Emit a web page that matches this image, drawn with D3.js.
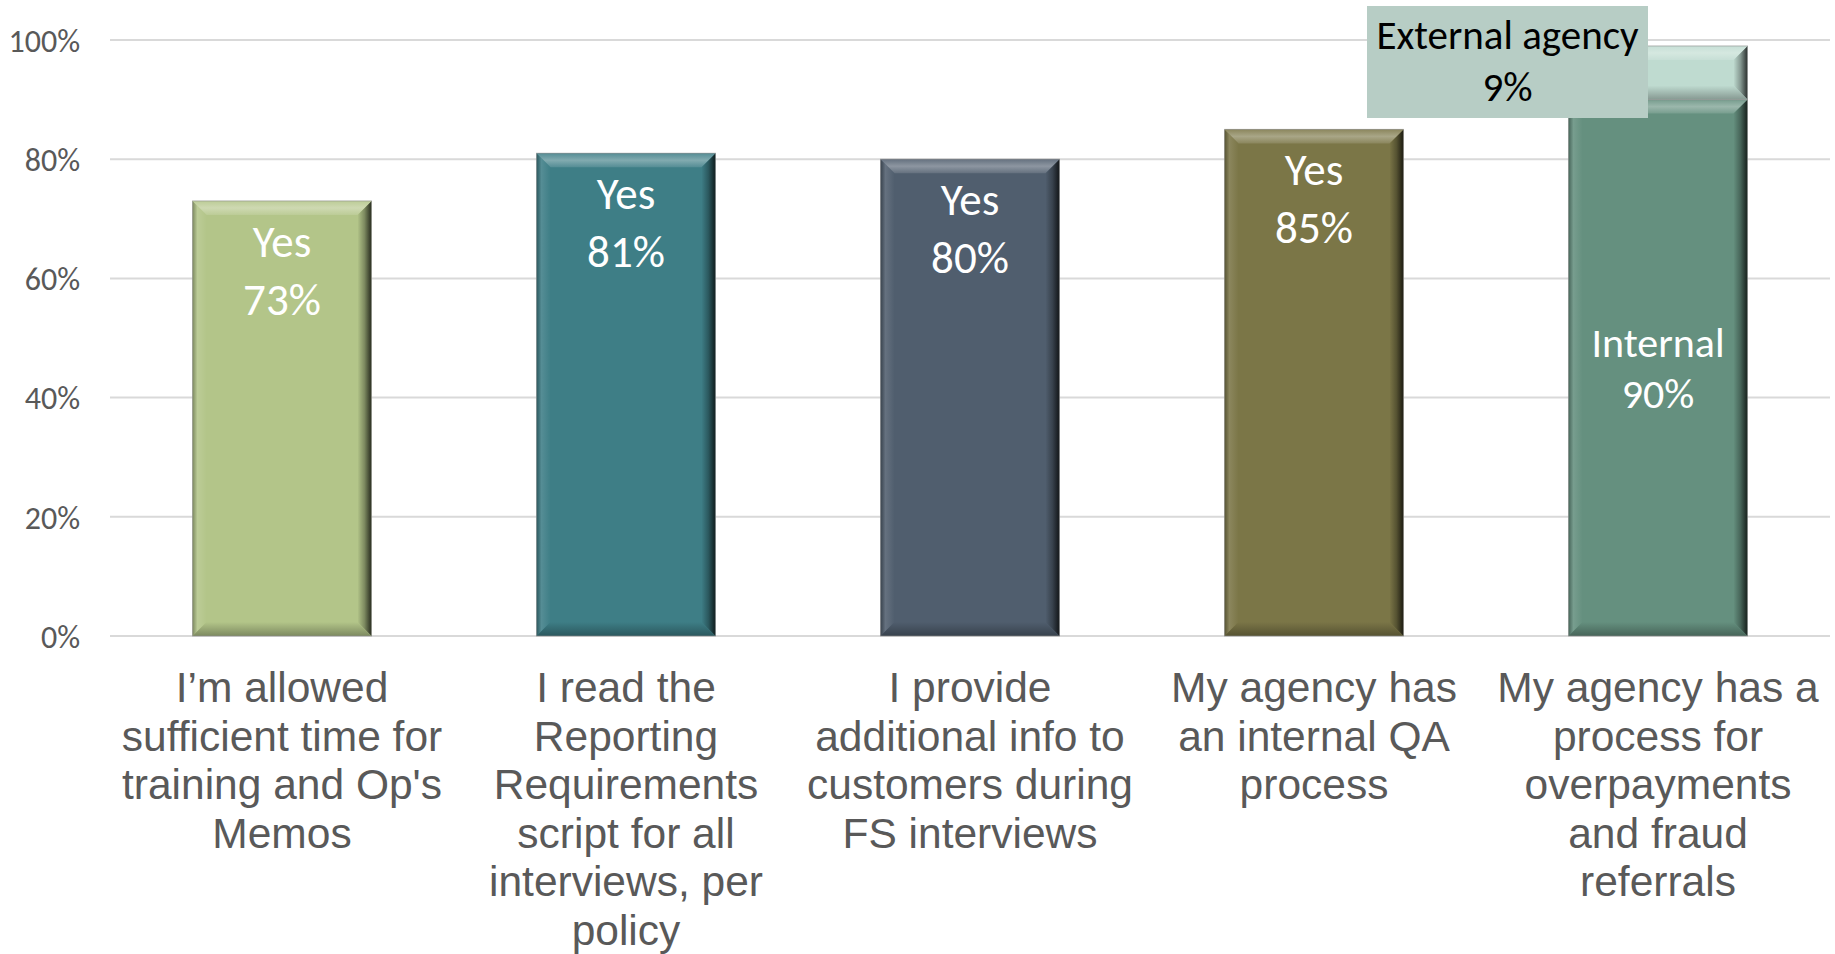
<!DOCTYPE html>
<html>
<head>
<meta charset="utf-8">
<script src="https://cdn.jsdelivr.net/npm/d3@7"></script>
<style>
  html, body { margin: 0; padding: 0; background: #fff; }
  svg { display: block; }
</style>
</head>
<body>
<svg id="chart" width="1835" height="954"></svg>
<script>
// ---------- data ----------
const categories = [
  ["I’m allowed", "sufficient time for", "training and Op's", "Memos"],
  ["I read the", "Reporting", "Requirements", "script for all", "interviews, per", "policy"],
  ["I provide", "additional info to", "customers during", "FS interviews"],
  ["My agency has", "an internal QA", "process"],
  ["My agency has a", "process for", "overpayments", "and fraud", "referrals"]
];
const categoryKeys = ["c1", "c2", "c3", "c4", "c5"];
const mainValues = [0.73, 0.81, 0.80, 0.85, 0.90];
const mainLabels = ["Yes", "Yes", "Yes", "Yes", "Internal"];
const stackValues = [0, 0, 0, 0, 0.09];
const stackLabel = "External agency";
const barColors = ["#b3c589", "#3e7e86", "#505e6e", "#7b7647", "#65907f"];
const stackColor = "#bfdbd0";
const yTicks = [0, 0.2, 0.4, 0.6, 0.8, 1.0];

// ---------- layout ----------
const svg = d3.select("#chart");
const plotLeft = 110, plotRight = 1830, plotTop = 40, plotBottom = 636;

const x = d3.scaleBand().domain(categoryKeys).range([plotLeft, plotRight])
  .paddingInner(0.48).paddingOuter(0.24);
const y = d3.scaleLinear().domain([0, 1]).range([plotBottom, plotTop]);

const defs = svg.append("defs");

// gridlines
svg.append("g").selectAll("line").data(yTicks).join("line")
  .attr("x1", plotLeft).attr("x2", plotRight)
  .attr("y1", d => y(d)).attr("y2", d => y(d))
  .attr("stroke", "#d9d9d9").attr("stroke-width", 2);

// y axis labels
const yAxis = d3.axisLeft(y).tickValues(yTicks).tickFormat(d3.format(".0%")).tickSize(0).tickPadding(0);
const yg = svg.append("g").attr("transform", `translate(80,0)`).call(yAxis);
yg.select(".domain").remove();
yg.selectAll("text").attr("font-family", "Carlito, Lato, sans-serif")
  .attr("font-size", 32).attr("fill", "#595959").attr("dy", "0.35em");

// bevel drawing
function bevelBar(g, x0, y0, w, h, color, id) {
  const b = Math.min(14, h / 3);
  const lighter = d3.interpolateRgb(color, "#ffffff")(0.35);
  const lighter2 = d3.interpolateRgb(color, "#ffffff")(0.12);
  const darker = d3.interpolateRgb(color, "#000000")(0.3);
  const darkest = d3.interpolateRgb(color, "#000000")(0.78);

  const gTop = defs.append("linearGradient").attr("id", id + "t").attr("x1", 0).attr("y1", 0).attr("x2", 0).attr("y2", 1);
  gTop.append("stop").attr("offset", 0).attr("stop-color", lighter2);
  gTop.append("stop").attr("offset", 0.5).attr("stop-color", lighter);
  gTop.append("stop").attr("offset", 1).attr("stop-color", lighter2);
  const gRight = defs.append("linearGradient").attr("id", id + "r").attr("x1", 0).attr("y1", 0).attr("x2", 1).attr("y2", 0);
  gRight.append("stop").attr("offset", 0).attr("stop-color", color);
  gRight.append("stop").attr("offset", 0.5).attr("stop-color", darker);
  gRight.append("stop").attr("offset", 1).attr("stop-color", darkest);
  const gBot = defs.append("linearGradient").attr("id", id + "b").attr("x1", 0).attr("y1", 0).attr("x2", 0).attr("y2", 1);
  gBot.append("stop").attr("offset", 0).attr("stop-color", color);
  gBot.append("stop").attr("offset", 1).attr("stop-color", darker);
  const gLeft = defs.append("linearGradient").attr("id", id + "l").attr("x1", 0).attr("y1", 0).attr("x2", 1).attr("y2", 0);
  gLeft.append("stop").attr("offset", 0).attr("stop-color", darker);
  gLeft.append("stop").attr("offset", 0.35).attr("stop-color", lighter2);
  gLeft.append("stop").attr("offset", 1).attr("stop-color", color);

  const x1 = x0 + w, y1 = y0 + h;
  g.append("rect").attr("x", x0).attr("y", y0).attr("width", w).attr("height", h).attr("fill", color);
  const poly = (pts, fill) => g.append("polygon").attr("points", pts.map(p => p.join(",")).join(" ")).attr("fill", fill);
  poly([[x0, y0], [x0 + b, y0 + b], [x0 + b, y1 - b], [x0, y1]], `url(#${id}l)`);
  poly([[x1, y0], [x1 - b, y0 + b], [x1 - b, y1 - b], [x1, y1]], `url(#${id}r)`);
  poly([[x0, y1], [x0 + b, y1 - b], [x1 - b, y1 - b], [x1, y1]], `url(#${id}b)`);
  poly([[x0, y0], [x1, y0], [x1 - b, y0 + b], [x0 + b, y0 + b]], `url(#${id}t)`);
  g.append("rect").attr("x", x0).attr("y", y0).attr("width", w).attr("height", h)
    .attr("fill", "none").attr("stroke", "#8c8c8c").attr("stroke-opacity", 0.6).attr("stroke-width", 1);
}

const bars = svg.append("g");
categoryKeys.forEach((k, i) => {
  const bx = x(k), bw = x.bandwidth();
  const g = bars.append("g");
  bevelBar(g, bx, y(mainValues[i]), bw, y(0) - y(mainValues[i]), barColors[i], "m" + i);
  if (stackValues[i] > 0) {
    const top = mainValues[i] + stackValues[i];
    bevelBar(g, bx, y(top), bw, y(mainValues[i]) - y(top), stackColor, "s" + i);
  }
});

// in-bar labels
categoryKeys.forEach((k, i) => {
  const cx = x(k) + x.bandwidth() / 2;
  const pct = d3.format(".0%")(mainValues[i]);
  if (stackValues[i] > 0) {
    const mid = (y(mainValues[i]) + y(0)) / 2;
    const t = svg.append("text").attr("text-anchor", "middle")
      .attr("font-family", "Carlito, Lato, sans-serif").attr("font-weight", 300)
      .attr("font-size", 42).attr("fill", "#ffffff");
    t.append("tspan").attr("x", cx).attr("y", mid - 11).text(mainLabels[i]);
    t.append("tspan").attr("x", cx).attr("y", mid + 40).text(pct);
  } else {
    const top = y(mainValues[i]);
    const t = svg.append("text").attr("text-anchor", "middle")
      .attr("font-family", "Carlito, Lato, sans-serif")
      .attr("font-size", 45).attr("fill", "#ffffff");
    t.append("tspan").attr("x", cx).attr("y", top + 56).text(mainLabels[i]);
    t.append("tspan").attr("x", cx).attr("y", top + 114).text(pct);
  }
});

// external callout
categoryKeys.forEach((k, i) => {
  if (stackValues[i] <= 0) return;
  const cx = x(k) + x.bandwidth() / 2;
  const bx0 = cx - 291, bx1 = cx - 10;
  const by0 = 6, by1 = 118;
  svg.append("rect").attr("x", bx0).attr("y", by0).attr("width", bx1 - bx0).attr("height", by1 - by0)
    .attr("fill", "#b7cdc5");
  const tcx = (bx0 + bx1) / 2;
  const t = svg.append("text").attr("text-anchor", "middle")
    .attr("font-family", "Carlito, Lato, sans-serif")
    .attr("font-size", 41).attr("fill", "#000000");
  t.append("tspan").attr("x", tcx).attr("y", 49).text(stackLabel);
  t.append("tspan").attr("x", tcx).attr("y", 101).text(d3.format(".0%")(stackValues[i]));
});

// category labels
const xAxisG = svg.append("g");
categoryKeys.forEach((k, i) => {
  const cx = x(k) + x.bandwidth() / 2;
  const t = xAxisG.append("text").attr("text-anchor", "middle")
    .attr("font-family", "'Liberation Sans', Arial, sans-serif")
    .attr("font-size", 42.5).attr("fill", "#595959");
  categories[i].forEach((line, j) => {
    t.append("tspan").attr("x", cx).attr("y", 702 + j * 48.5).text(line);
  });
});
</script>
</body>
</html>
